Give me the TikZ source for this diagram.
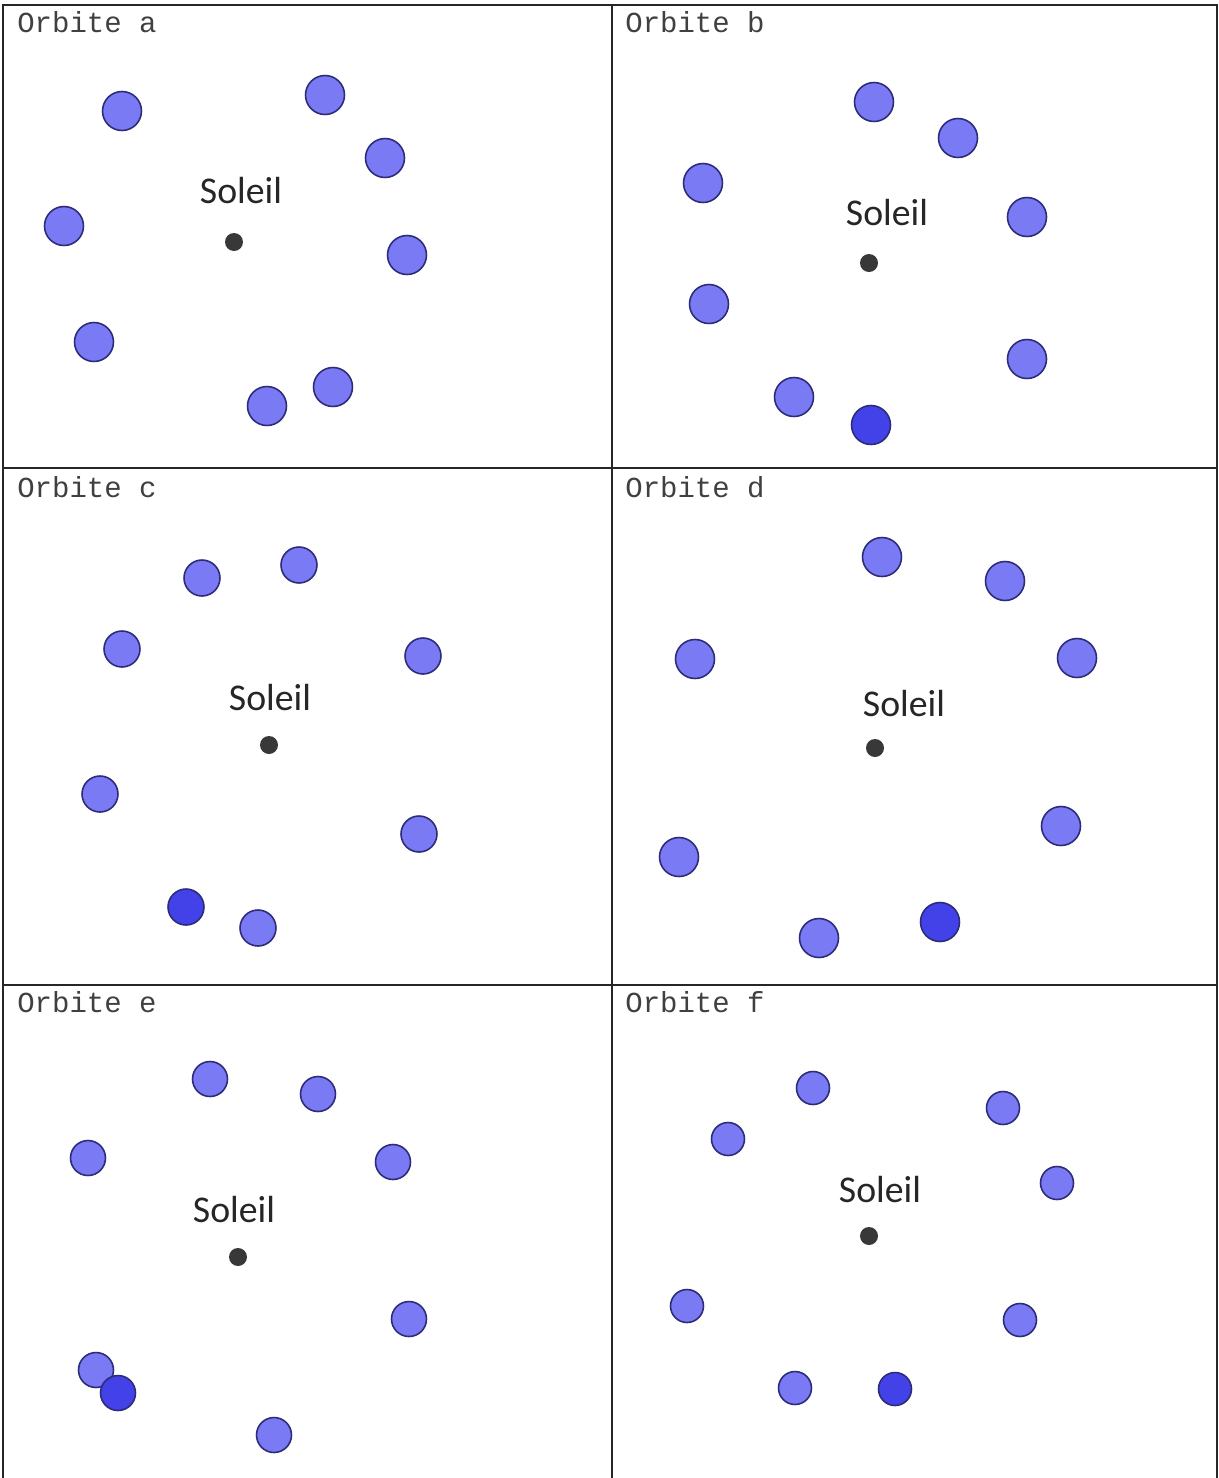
\documentclass[tikz,border=0pt]{standalone}
\usepackage{fontspec}
\setmainfont{Carlito}
\newfontfamily\orbitfont{Liberation Mono}
\usetikzlibrary{positioning}

\definecolor{planetblue}{RGB}{122,122,244}
\definecolor{planetdeep}{RGB}{66,66,232}
\definecolor{planetedge}{RGB}{44,44,120}

\begin{document}
\begin{tikzpicture}[
        x=0.02cm, y=-0.02cm,
        frame/.style={line width=1.2pt, black!85},
        title/.style={
            anchor=west,
            inner sep=0pt,
            text=black!75,
            font=\orbitfont\fontsize{16.5}{18}\selectfont
        },
        sunlabel/.style={
            inner sep=0pt,
            text=black!85,
            font=\fontsize{21.5}{24}\selectfont
        },
        sun/.style={circle, fill=black!78, inner sep=0pt, minimum size=0.36cm},
        planet/.style={
            circle,
            draw=planetedge,
            line width=0.9pt,
            fill=planetblue,
            inner sep=0pt,
            minimum size=#1
        },
        planet/.default=0.78cm,
        deep/.style={planet=#1, fill=planetdeep},
        deep/.default=0.78cm
    ]
        \useasboundingbox (0,0) rectangle (1219,1478);

        % grid of the six panels
        \draw[frame] (3,1478) -- (3,5) -- (1217,5) -- (1217,1478);
        \draw[frame] (612,5) -- (612,1478);
        \draw[frame] (3,468) -- (1217,468);
        \draw[frame] (3,985) -- (1217,985);

        % panel titles
        \foreach \tag/\tx/\ty in {a/17/22,b/625/22,c/17/487,d/625/487,e/17/1002,f/625/1002} {
            \node[title] (title\tag) at (\tx,\ty) {Orbite \tag};
        }

        % suns and their labels
        \foreach \tag/\sx/\sy/\lx/\ly in {a/234/242/241/191,b/869/263/887/213,c/269/745/270/698,
                                          d/875/748/904/704,e/238/1257/234/1209,f/869/1236/880/1190} {
            \node[sun] (sun\tag) at (\sx,\sy) {};
            \node[sunlabel] (label\tag) at (\lx,\ly) {Soleil};
        }

        % orbite a
        \foreach \id/\px/\py in {1/122/111,2/325/95,3/385/158,4/64/226,5/407/255,6/94/342,7/333/387,8/267/406} {
            \node[planet=0.78cm] (a\id) at (\px,\py) {};
        }
        % orbite b
        \foreach \id/\px/\py in {1/874/102,2/958/138,3/703/183,4/1027/217,5/709/304,6/1027/359,7/794/397} {
            \node[planet=0.78cm] (b\id) at (\px,\py) {};
        }
        \node[deep=0.78cm] (b8) at (871,425) {};
        % orbite c
        \foreach \id/\px/\py in {1/202/578,2/299/565,3/122/649,4/423/656,5/100/794,6/419/834,7/258/928} {
            \node[planet=0.72cm] (c\id) at (\px,\py) {};
        }
        \node[deep=0.72cm] (c8) at (186,907) {};
        % orbite d
        \foreach \id/\px/\py in {1/882/557,2/1005/581,3/695/659,4/1077/658,5/1061/826,6/679/857,7/819/938} {
            \node[planet=0.78cm] (d\id) at (\px,\py) {};
        }
        \node[deep=0.78cm] (d8) at (940,922) {};
        % orbite e
        \foreach \id/\px/\py in {1/210/1079,2/318/1094,3/88/1158,4/393/1162,5/409/1319,6/96/1370,7/274/1435} {
            \node[planet=0.70cm] (e\id) at (\px,\py) {};
        }
        \node[deep=0.70cm] (e8) at (118,1393) {};
        % orbite f
        \foreach \id/\px/\py in {1/813/1088,2/1003/1108,3/728/1139,4/1057/1183,5/687/1306,6/1020/1320,7/795/1388} {
            \node[planet=0.66cm] (f\id) at (\px,\py) {};
        }
        \node[deep=0.66cm] (f8) at (895,1389) {};
    \end{tikzpicture}
\end{document}
